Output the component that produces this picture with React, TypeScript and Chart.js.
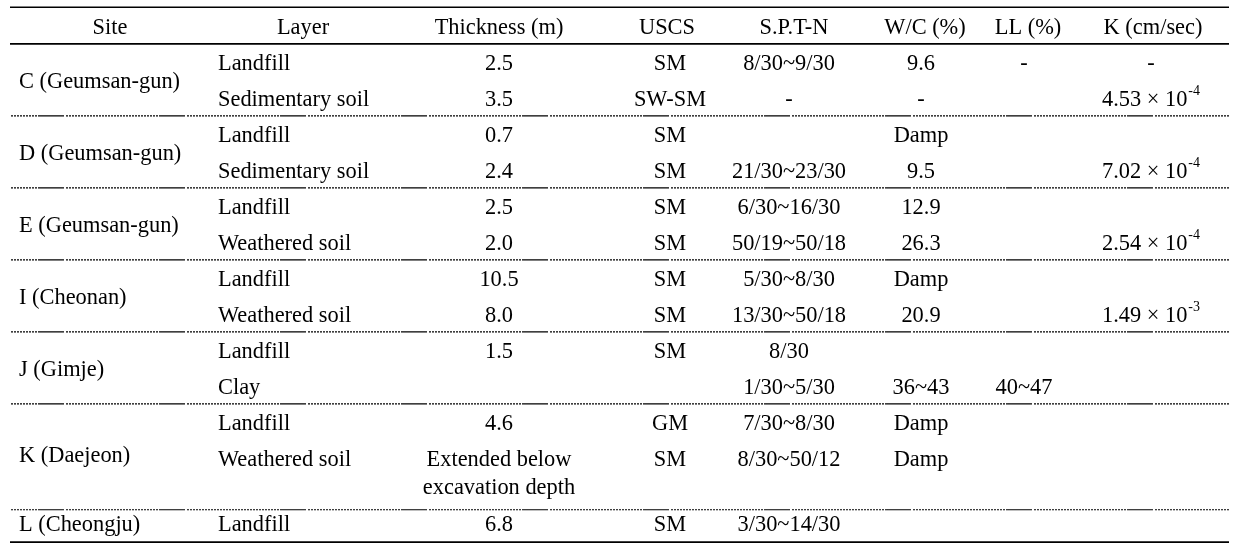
import React, { useEffect, useRef } from "react";
import { Chart, registerables } from "chart.js";

Chart.register(...registerables);

// ---- table content ----
const columns = ["Site", "Layer", "Thickness (m)", "USCS", "S.P.T-N", "W/C (%)", "LL (%)", "K (cm/sec)"];
const sites = ["C (Geumsan-gun)", "D (Geumsan-gun)", "E (Geumsan-gun)", "I (Cheonan)", "J (Gimje)", "K (Daejeon)", "L (Cheongju)"];
const siteOfLayer = [0, 0, 1, 1, 2, 2, 3, 3, 4, 4, 5, 5, 6];
const layers = ["Landfill", "Sedimentary soil", "Landfill", "Sedimentary soil", "Landfill", "Weathered soil", "Landfill", "Weathered soil", "Landfill", "Clay", "Landfill", "Weathered soil", "Landfill"];
const thickness = ["2.5", "3.5", "0.7", "2.4", "2.5", "2.0", "10.5", "8.0", "1.5", "", "4.6", "Extended below\nexcavation depth", "6.8"];
const uscs = ["SM", "SW-SM", "SM", "SM", "SM", "SM", "SM", "SM", "SM", "", "GM", "SM", "SM"];
const sptN = ["8/30~9/30", "-", "", "21/30~23/30", "6/30~16/30", "50/19~50/18", "5/30~8/30", "13/30~50/18", "8/30", "1/30~5/30", "7/30~8/30", "8/30~50/12", "3/30~14/30"];
const waterContent = ["9.6", "-", "Damp", "9.5", "12.9", "26.3", "Damp", "20.9", "", "36~43", "Damp", "Damp", ""];
const liquidLimit = ["-", "", "", "", "", "", "", "", "", "40~47", "", "", ""];
const permeability = ["-", "4.53 × 10^-4", "", "7.02 × 10^-4", "", "2.54 × 10^-4", "", "1.49 × 10^-3", "", "", "", "", ""];

// ---- layout (row units on the y scale, table units on the x scale) ----
const LAYER_ROWS = [1, 2, 3, 4, 5, 6, 7, 8, 9, 10, 11, 12, 13.8];
const WRAP_STEP = 0.78;
const SEPARATOR_ROWS = [2.44, 4.44, 6.44, 8.44, 10.44, 13.38];
const TOP_RULE = -0.58;
const HEAD_RULE = 0.44;
const BOTTOM_RULE = 14.28;
const RULE_X = [10, 1229];
const HEAD_X = [110, 303, 499, 667, 794, 925, 1028, 1153];
const VAL_X = [19, 218, 499, 670, 789, 921, 1024, 1151];
const VAL_ALIGN = ["left", "left", "center", "center", "center", "center", "center", "center"];

const FONT = '"Liberation Serif", "Times New Roman", serif';
const FS = 22.4;
const SUP_FS = 14;

const tablePlugin = {
  id: "tableText",
  afterDatasetsDraw(chart: any) {
    const ctx = chart.ctx as CanvasRenderingContext2D;
    const xs = chart.scales.x;
    const ys = chart.scales.y;
    ctx.save();
    ctx.fillStyle = "#000";
    ctx.textBaseline = "middle";

    const drawText = (text: string, x: number, y: number, align: string) => {
      const lines = text.split("\n");
      lines.forEach((ln, i) => {
        const py = ys.getPixelForValue(y + i * WRAP_STEP);
        const m = ln.match(/^(.*)\^(.*)$/);
        ctx.font = `${FS}px ${FONT}`;
        if (m) {
          const base = m[1];
          const sup = m[2];
          const wb = ctx.measureText(base).width;
          ctx.font = `${SUP_FS}px ${FONT}`;
          const ws = ctx.measureText(sup).width;
          const total = wb + ws + 1;
          let px = xs.getPixelForValue(x);
          if (align === "center") px -= total / 2;
          else if (align === "right") px -= total;
          ctx.textAlign = "left";
          ctx.font = `${FS}px ${FONT}`;
          ctx.fillText(base, px, py);
          ctx.font = `${SUP_FS}px ${FONT}`;
          ctx.fillText(sup, px + wb + 1, py - 9);
        } else {
          ctx.textAlign = align as CanvasTextAlign;
          ctx.fillText(ln, xs.getPixelForValue(x), py);
        }
      });
    };

    columns.forEach((c, i) => drawText(c, HEAD_X[i], 0, "center"));

    sites.forEach((s, si) => {
      const rows: number[] = [];
      siteOfLayer.forEach((k, li) => {
        if (k === si) {
          rows.push(LAYER_ROWS[li]);
          const extra = thickness[li].split("\n").length - 1;
          if (extra > 0) rows.push(LAYER_ROWS[li] + extra * WRAP_STEP);
        }
      });
      const y = (Math.min(...rows) + Math.max(...rows)) / 2;
      drawText(s, VAL_X[0], y, VAL_ALIGN[0]);
    });

    const valueCols = [layers, thickness, uscs, sptN, waterContent, liquidLimit, permeability];
    valueCols.forEach((col, ci) => {
      col.forEach((v, li) => {
        if (v) drawText(v, VAL_X[ci + 1], LAYER_ROWS[li], VAL_ALIGN[ci + 1]);
      });
    });
    ctx.restore();
  },
};

function rule(y: number, width: number, dashed: boolean) {
  const dotted: number[] = [];
  for (let i = 0; i < 31; i++) dotted.push(2, 1);
  return {
    data: [
      { x: RULE_X[0], y },
      { x: RULE_X[1], y },
    ],
    borderColor: "#000",
    borderWidth: width,
    borderDash: dashed ? [26, 2, ...dotted] : [],
    borderDashOffset: dashed ? 93 : 0,
    pointRadius: 0,
    fill: false,
    tension: 0,
  };
}

export default function App() {
  const ref = useRef<HTMLCanvasElement>(null);
  useEffect(() => {
    document.body.style.margin = "0";
    const datasets = [
      rule(TOP_RULE, 1.6, false),
      rule(HEAD_RULE, 1.6, false),
      rule(BOTTOM_RULE, 1.6, false),
      ...SEPARATOR_ROWS.map((y) => rule(y, 1.1, true)),
    ];
    const chart = new Chart(ref.current as HTMLCanvasElement, {
      type: "line",
      data: { datasets } as any,
      options: {
        animation: false,
        responsive: false,
        maintainAspectRatio: false,
        layout: { padding: 0 },
        plugins: { legend: { display: false }, tooltip: { enabled: false } },
        events: [],
        scales: {
          x: { type: "linear", min: 0, max: 1236, display: false },
          y: { type: "linear", min: -0.78, max: 14.61, reverse: true, display: false },
        },
      },
      plugins: [tablePlugin],
    });
    return () => chart.destroy();
  }, []);
  return (
    <div style={{ width: 1236, height: 554, background: "#fff", overflow: "hidden" }}>
      <canvas ref={ref} width={1236} height={554} style={{ display: "block" }} />
    </div>
  );
}
